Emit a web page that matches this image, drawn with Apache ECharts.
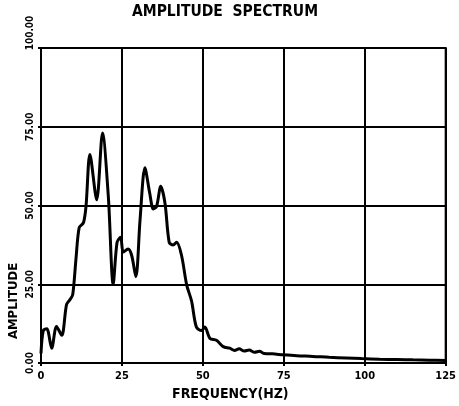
<!DOCTYPE html>
<html>
<head>
<meta charset="utf-8">
<script src="https://cdn.jsdelivr.net/npm/echarts@6/dist/echarts.min.js"></script>
<style>html,body{margin:0;padding:0;background:#fff}#c{width:459px;height:406px}</style>
</head>
<body>
<div id="c"></div>
<script>
const titleText = 'AMPLITUDE  SPECTRUM';
const xName = 'FREQUENCY(HZ)';
const yName = 'AMPLITUDE';
const freq = [0, 0.7, 1.8, 3.3, 4.8, 6.4, 7.9, 9.0, 9.8, 10.8, 11.8, 13.1, 13.9, 15.1, 17.2, 19.0, 20.8, 22.3, 23.5, 24.6, 25.4, 26.9, 28.0, 29.3, 30.6, 32.1, 33.6, 34.7, 35.7, 37.0, 38.3, 39.6, 40.8, 41.9, 43.4, 45.0, 46.5, 48.0, 49.6, 50.6, 52.2, 54.2, 56.3, 58.3, 59.8, 61.2, 62.8, 64.3, 66.0, 67.5, 69.0, 71.5, 74.8, 79, 84, 89, 94.3, 99, 104.6, 110, 114.8, 120, 125];
const amp  = [3, 10.3, 10.9, 4.7, 11.6, 8.8, 18.6, 20.2, 21.7, 33, 43, 44.5, 49.7, 66.2, 51.8, 73, 52.8, 25, 38.3, 39.9, 35.2, 36.2, 34.2, 27.4, 45.5, 62, 53.8, 48.9, 49.7, 56.1, 50.7, 38.3, 37.5, 38.3, 34.2, 24.8, 19.7, 11.4, 10.3, 11.4, 7.8, 7.2, 5.2, 4.7, 4.0, 4.5, 3.8, 4.1, 3.4, 3.7, 3.0, 2.9, 2.6, 2.3, 2.1, 1.8, 1.6, 1.4, 1.2, 1.1, 1.0, 0.9, 0.8];
const xTicks = [0, 25, 50, 75, 100, 125];
const yTickLabels = {0: '0.00', 25: '25.00', 50: '50.00', 75: '75.00', 100: '100.00'};

const font = 'DejaVu Sans Condensed';
const chart = echarts.init(document.getElementById('c'));
chart.setOption({
  animation: false,
  title: {
    text: titleText, left: 220, top: -1, textAlign: 'center',
    textStyle: {fontFamily: font, fontWeight: 'bold', fontSize: 15.5, color: '#000'}
  },
  grid: {left: 41, right: 13, top: 48, bottom: 36, show: true, borderColor: '#000', borderWidth: 2},
  xAxis: {
    type: 'value', min: 0, max: 125, interval: 25,
    name: xName, nameLocation: 'middle', nameGap: 24,
    nameTextStyle: {fontFamily: font, fontWeight: 'bold', fontSize: 14, color: '#000', padding: [0, 26, 0, 0]},
    axisLine: {lineStyle: {color: '#000', width: 2}},
    axisTick: {show: true, length: 3, lineStyle: {color: '#000', width: 2}},
    axisLabel: {fontFamily: font, fontWeight: 'bold', fontSize: 11, color: '#000', margin: 8,
      formatter: v => xTicks.includes(v) ? String(v) : ''},
    splitLine: {show: true, lineStyle: {color: '#000', width: 2}}
  },
  yAxis: {
    type: 'value', min: 0, max: 100, interval: 25,
    axisLine: {show: true, lineStyle: {color: '#000', width: 2}},
    axisTick: {show: true, length: 3, lineStyle: {color: '#000', width: 2}},
    axisLabel: {fontFamily: font, fontWeight: 'bold', fontSize: 10, color: '#000', rotate: 90, margin: 6,
      formatter: v => v === 100 ? '{top|' + yTickLabels[v] + '}' : (yTickLabels[v] || ''),
      rich: {top: {fontFamily: font, fontWeight: 'bold', fontSize: 10, color: '#000', padding: [0, 0, 0, 30]}}},
    splitLine: {show: true, lineStyle: {color: '#000', width: 2}}
  },
  graphic: [{
    type: 'text', x: 14, y: 301, rotation: Math.PI / 2,
    style: {text: yName, fontFamily: font, fontWeight: 'bold', fontSize: 13, fill: '#000', align: 'center', verticalAlign: 'middle'}
  }],
  series: [{
    type: 'line', data: freq.map((f, i) => [f, amp[i]]),
    showSymbol: false, smooth: 0.3,
    lineStyle: {color: '#000', width: 3}
  }]
});
</script>
</body>
</html>
